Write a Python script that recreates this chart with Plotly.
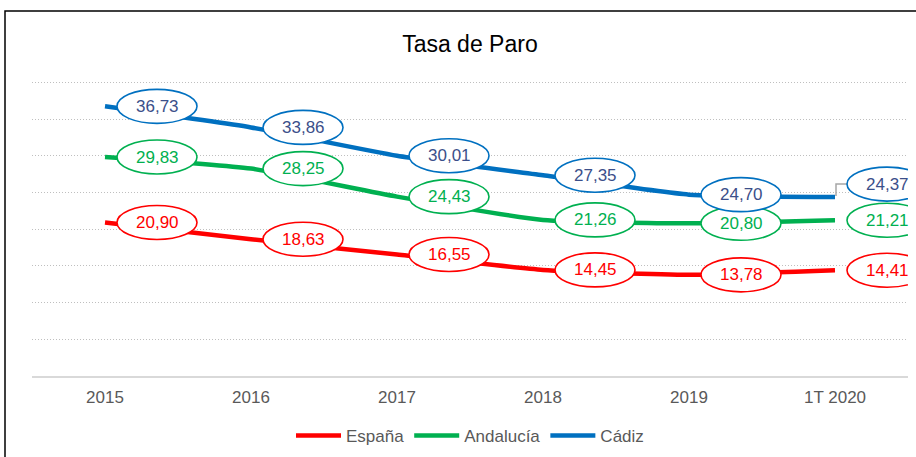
import plotly.graph_objects as go

categories = ["2015", "2016", "2017", "2018", "2019", "1T 2020"]
espana = [20.90, 18.63, 16.55, 14.45, 13.78, 14.41]
andalucia = [29.83, 28.25, 24.43, 21.26, 20.80, 21.21]
cadiz = [36.73, 33.86, 30.01, 27.35, 24.70, 24.37]

series = [
    ("España", espana, "#FF0000", "#FF0000"),
    ("Andalucía", andalucia, "#00B050", "#00B050"),
    ("Cádiz", cadiz, "#0070C0", "#3B4F8A"),
]

FONT = "Liberation Sans, Arial, sans-serif"
xs = list(range(len(categories)))

fig = go.Figure()
shapes = []
annotations = []

for name, vals, color, tcolor in series:
    fig.add_trace(go.Scatter(
        x=xs, y=vals, name=name, mode="lines",
        line=dict(color=color, width=4.5, shape="spline", smoothing=0.5),
        hoverinfo="skip",
    ))
    for i, v in enumerate(vals):
        dy = 0
        if name == "Cádiz" and i == len(vals) - 1:
            dy = 13
            shapes.append(dict(
                type="path", xref="x", yref="y", xsizemode="pixel", ysizemode="pixel",
                xanchor=i, yanchor=v, path="M 1 1 L 1 13 L 12 13",
                line=dict(color="#A6A6A6", width=1.5), layer="above",
            ))
        shapes.append(dict(
            type="circle", xref="x", yref="y", xsizemode="pixel", ysizemode="pixel",
            xanchor=i, yanchor=v, x0=12, x1=92, y0=-17 + dy, y1=17 + dy,
            line=dict(color=color, width=1.6), fillcolor="white", layer="above",
        ))
        annotations.append(dict(
            x=i, y=v, xref="x", yref="y", text=f"{v:.2f}".replace(".", ","),
            showarrow=False, xshift=52, yshift=dy,
            font=dict(family=FONT, size=17, color=tcolor),
        ))

# outer chart border
shapes.append(dict(
    type="rect", xref="paper", yref="paper", x0=-27 / 876, x1=1.2, y0=-0.6,
    y1=(376 - 11) / 301,
    line=dict(color="black", width=1.5), fillcolor="rgba(0,0,0,0)", layer="below",
))

fig.update_layout(
    width=916, height=457,
    margin=dict(l=32, r=8, t=75, b=81, autoexpand=False),
    paper_bgcolor="white", plot_bgcolor="white",
    title=dict(text="Tasa de Paro", x=0.513, xanchor="center", y=1 - 44 / 457,
               yanchor="middle", yref="container",
               font=dict(family=FONT, size=23, color="black")),
    xaxis=dict(
        range=[-0.5, len(categories) - 0.5], tickvals=xs, ticktext=categories,
        showgrid=False, showline=True, linecolor="#D9D9D9", linewidth=1.5,
        ticks="outside", ticklen=5, tickcolor="rgba(0,0,0,0)",
        tickfont=dict(family=FONT, size=17, color="#595959"), zeroline=False,
    ),
    yaxis=dict(
        range=[0, 41], tickvals=[5, 10, 15, 20, 25, 30, 35, 40],
        showticklabels=False, showgrid=True,
        gridcolor="#BFBFBF", griddash="1px,2px", gridwidth=1.3, zeroline=False,
    ),
    legend=dict(orientation="h", x=0.5, xanchor="center", y=1 - 436 / 457,
                yref="container", yanchor="middle",
                font=dict(family=FONT, size=17, color="#595959"), itemwidth=45,
                traceorder="normal"),
    shapes=shapes,
    annotations=annotations,
    showlegend=True,
)

fig.write_html("out.html", config={"displayModeBar": False},
               post_script="document.body.style.margin='0';document.body.style.padding='0';")
